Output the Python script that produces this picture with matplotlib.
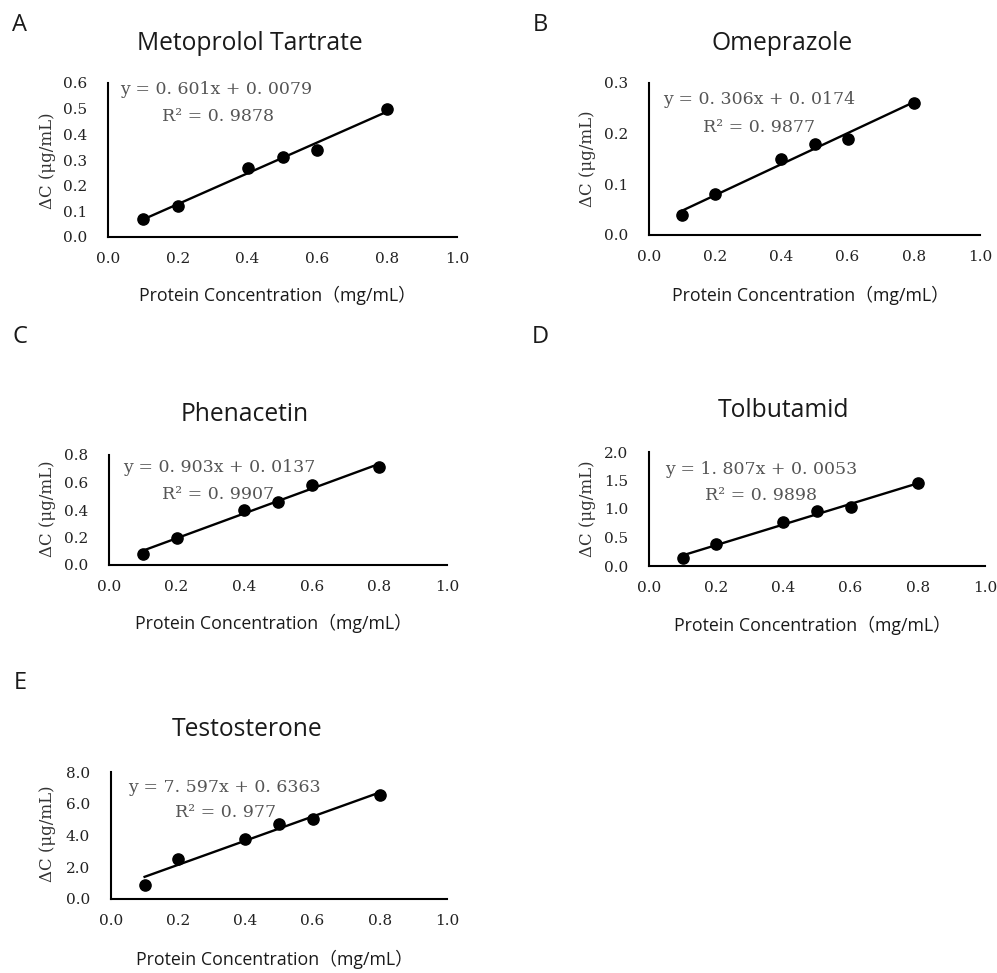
import matplotlib
matplotlib.use('Agg')
import matplotlib.pyplot as plt
import numpy as np

# data
conc = [0.1, 0.2, 0.4, 0.5, 0.6, 0.8]
drugs = ['Metoprolol Tartrate', 'Omeprazole', 'Phenacetin', 'Tolbutamid', 'Testosterone']
panel_letters = ['A', 'B', 'C', 'D', 'E']

dc_metoprolol = [0.07, 0.12, 0.27, 0.31, 0.34, 0.50]
dc_omeprazole = [0.04, 0.08, 0.15, 0.18, 0.19, 0.26]
dc_phenacetin = [0.08, 0.20, 0.40, 0.46, 0.58, 0.71]
dc_tolbutamid = [0.14, 0.38, 0.78, 0.97, 1.04, 1.45]
dc_testosterone = [0.90, 2.50, 3.76, 4.72, 5.07, 6.58]

slopes = [0.601, 0.306, 0.903, 1.807, 7.597]
intercepts = [0.0079, 0.0174, 0.0137, 0.0053, 0.6363]
eq_texts = ['y = 0. 601x + 0. 0079', 'y = 0. 306x + 0. 0174', 'y = 0. 903x + 0. 0137',
            'y = 1. 807x + 0. 0053', 'y = 7. 597x + 0. 6363']
r2_texts = ['R² = 0. 9878', 'R² = 0. 9877', 'R² = 0. 9907', 'R² = 0. 9898', 'R² = 0. 977']

y_max = [0.6, 0.3, 0.8, 2.0, 8.0]
y_step = [0.1, 0.1, 0.2, 0.5, 2.0]

all_dc = [dc_metoprolol, dc_omeprazole, dc_phenacetin, dc_tolbutamid, dc_testosterone]

W, H = 997, 973
fig = plt.figure(figsize=(W / 100, H / 100), dpi=100)

# axes boxes in pixels: left, right, top, bottom
boxes = [(108, 457, 83, 237), (649, 980, 83, 235), (109, 447, 455, 565),
         (649, 985, 452, 566), (111, 447, 772, 899)]
title_pos = [(250, 43), (782, 43), (245, 415), (783, 410), (247, 730)]
xlabel_pos = [(277, 295), (810, 295), (273, 623), (812, 625), (274, 959)]
ylabel_pos = [(47, 161), (587, 159), (47, 509), (587, 509), (47, 834)]
letter_pos = [(20, 25), (540, 25), (20, 337), (540, 337), (20, 683)]
eq_pos = [((0.035, 0.955), (0.155, 0.78)), ((0.042, 0.89), (0.163, 0.71)),
          ((0.041, 0.89), (0.157, 0.645)), ((0.048, 0.85), (0.167, 0.62)),
          ((0.05, 0.88), (0.19, 0.68))]


def fx(px):
    return px / W


def fy(py):
    return 1 - py / H


sans = ['Open Sans', 'Noto Sans CJK SC']

for i in range(5):
    l, r, t, b = boxes[i]
    ax = fig.add_axes([fx(l), fy(b), (r - l) / W, (b - t) / H])
    x = np.array(conc)
    ax.scatter(x, all_dc[i], s=65, color='black', zorder=3)
    xl = np.array([min(conc), max(conc)])
    ax.plot(xl, slopes[i] * xl + intercepts[i], color='black', lw=1.7, zorder=2)

    ax.set_xlim(0, 1.0)
    ax.set_ylim(0, y_max[i])
    ax.set_xticks(np.arange(0, 1.01, 0.2))
    ax.set_yticks(np.arange(0, y_max[i] + 1e-9, y_step[i]))
    ax.xaxis.set_major_formatter(matplotlib.ticker.FormatStrFormatter('%.1f'))
    ax.yaxis.set_major_formatter(matplotlib.ticker.FormatStrFormatter('%.1f'))
    ax.tick_params(length=0, labelsize=11, colors='#222222')
    ax.tick_params(axis='x', pad=11)
    ax.tick_params(axis='y', pad=15)
    for lab in ax.get_xticklabels() + ax.get_yticklabels():
        lab.set_family('DejaVu Serif')
    for s in ['top', 'right']:
        ax.spines[s].set_visible(False)
    for s in ['left', 'bottom']:
        ax.spines[s].set_linewidth(1.5)
    ax.patch.set_alpha(0)

    (ex, ey), (rx, ry) = eq_pos[i]
    ax.text(ex, ey, eq_texts[i], transform=ax.transAxes, family='DejaVu Serif',
            fontsize=12.5, color='#555555', va='center', ha='left')
    ax.text(rx, ry, r2_texts[i], transform=ax.transAxes, family='DejaVu Serif',
            fontsize=12.5, color='#555555', va='center', ha='left')

    fig.text(fx(title_pos[i][0]), fy(title_pos[i][1]), drugs[i], family=sans,
             fontsize=17.7, ha='center', va='center', color='#1a1a1a')
    fig.text(fx(xlabel_pos[i][0]), fy(xlabel_pos[i][1]), 'Protein Concentration（mg/mL）',
             family=sans, fontsize=12.8, ha='center', va='center', color='#1a1a1a')
    fig.text(fx(ylabel_pos[i][0]), fy(ylabel_pos[i][1]), 'ΔC (μg/mL)',
             family='DejaVu Serif', fontsize=12, ha='center', va='center',
             rotation=90, color='#333333')
    fig.text(fx(letter_pos[i][0]), fy(letter_pos[i][1]), panel_letters[i], family=sans,
             fontsize=17, ha='center', va='center', color='#1a1a1a')

fig.savefig('out.png', dpi=100)
